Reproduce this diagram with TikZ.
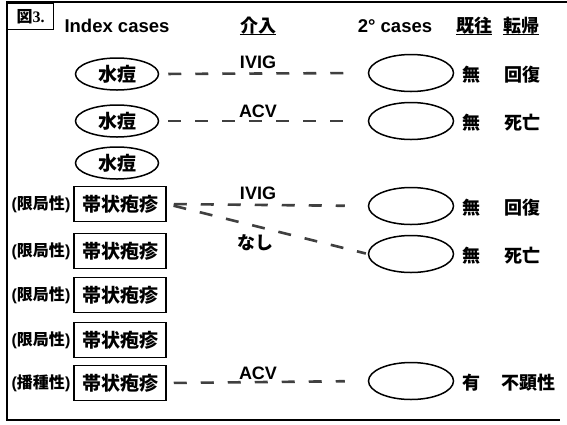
\documentclass[tikz,border=0pt]{standalone}
\usepackage{fontspec}
\setmainfont{Liberation Sans}
\newfontfamily\jp{Noto Sans CJK JP}
\newfontfamily\serifb{Liberation Serif}
\usetikzlibrary{shapes.geometric}
\tikzset{
  jpf/.style={font=\jp\bfseries\fontsize{#1}{#1}\selectfont},
  lft/.style={ellipse, draw, line width=1.5pt, minimum width=83pt, minimum height=32pt, inner sep=0pt, jpf=19},
  rgt/.style={ellipse, draw, line width=1.5pt, minimum width=85pt, minimum height=37pt, inner sep=0pt},
  hzbox/.style={draw, line width=1.5pt, minimum width=92pt, minimum height=35pt, inner sep=0pt, jpf=19},
  dline/.style={line width=2.6pt, draw=black!75, dash pattern=on 13pt off 14pt},
  lbl/.style={font=\bfseries\fontsize{18}{18}\selectfont, anchor=base, inner sep=0pt},
  hdr/.style={font=\bfseries\fontsize{18.5}{18.5}\selectfont, anchor=base, inner sep=0pt},
  jhdr/.style={jpf=18, anchor=base, inner sep=0pt},
  uline/.style={line width=1.2pt},
  rtxt/.style={jpf=18, inner sep=0pt},
  paren/.style={font=\bfseries\fontsize{16}{16}\selectfont, inner sep=0pt},
}
\begin{document}
\begin{tikzpicture}[x=1pt,y=-1pt]
\useasboundingbox (0,0) rectangle (567,424);
% frame
\draw[line width=1.2pt] (567,2) -- (7,2) -- (7,420) -- (560,420);
\node[draw, line width=1.2pt, minimum width=46pt, minimum height=26pt, anchor=north west, inner sep=0pt] (fig) at (7,3) {\jp\bfseries\fontsize{16}{16}\selectfont 図\serifb\bfseries 3.};
% headers
\node[hdr] (h1) at (117,32) {Index cases};
\node[jhdr] (h2) at (258,32) {介入};
\node[hdr] (h3) at (395,32) {2° cases};
\node[jhdr] (h4) at (474,32) {既往};
\node[jhdr] (h5) at (521,32) {転帰};
\draw[uline] ([yshift=-2.5pt]h2.base west) -- ([yshift=-2.5pt]h2.base east);
\draw[uline] ([yshift=-2.5pt]h4.base west) -- ([yshift=-2.5pt]h4.base east);
\draw[uline] ([yshift=-2.5pt]h5.base west) -- ([yshift=-2.5pt]h5.base east);
% index cases
\node[lft] (a1) at (117,74) {水痘};
\node[lft] (a2) at (117,121) {水痘};
\node[lft] (a3) at (117,163) {水痘};
\node[hzbox] (b1) at (120,204) {帯状疱疹};
\node[hzbox] (b2) at (120,251) {帯状疱疹};
\node[hzbox] (b3) at (120,295) {帯状疱疹};
\node[hzbox] (b4) at (120,340) {帯状疱疹};
\node[hzbox] (b5) at (120,383) {帯状疱疹};
\node[paren] (p1) at (41,204) {(\jp 限局性\rmfamily)};
\node[paren] (p2) at (41,251) {(\jp 限局性\rmfamily)};
\node[paren] (p3) at (41,295) {(\jp 限局性\rmfamily)};
\node[paren] (p4) at (41,340) {(\jp 限局性\rmfamily)};
\node[paren] (p5) at (41,383) {(\jp 播種性\rmfamily)};
% secondary cases
\node[rgt] (r1) at (411,73) {};
\node[rgt] (r2) at (411,121) {};
\node[rgt] (r3) at (411,206) {};
\node[rgt] (r4) at (411,254) {};
\node[rgt] (r5) at (411,381) {};
% connectors
\draw[dline, shorten <=9pt, shorten >=23pt] (a1.east) -- (r1.west);
\draw[dline, shorten <=9pt, shorten >=23pt] (a2.east) -- (r2.west);
\draw[dline, shorten <=7pt, shorten >=23pt] (b1.east) -- (r3.west);
\draw[dline, shorten <=7pt, shorten >=2pt] (b1.east) -- (r4.west);
\draw[dline, shorten <=7pt, shorten >=23pt] (b5.east) -- (r5.west);
\node[lbl] (t1) at (258,68) {IVIG};
\node[lbl] (t2) at (258,117) {ACV};
\node[lbl] (t3) at (258,199) {IVIG};
\node[jpf=18, inner sep=0pt] (t4) at (255,243) {なし};
\node[lbl] (t5) at (258,379) {ACV};
% outcome columns
\node[rtxt] (k1) at (471,75) {無};
\node[rtxt] (o1) at (522,75) {回復};
\node[rtxt] (k2) at (471,123) {無};
\node[rtxt] (o2) at (522,123) {死亡};
\node[rtxt] (k3) at (471,208) {無};
\node[rtxt] (o3) at (522,208) {回復};
\node[rtxt] (k4) at (471,256) {無};
\node[rtxt] (o4) at (522,256) {死亡};
\node[rtxt] (k5) at (471,383) {有};
\node[rtxt] (o5) at (528,383) {不顕性};
\end{tikzpicture}
\end{document}
